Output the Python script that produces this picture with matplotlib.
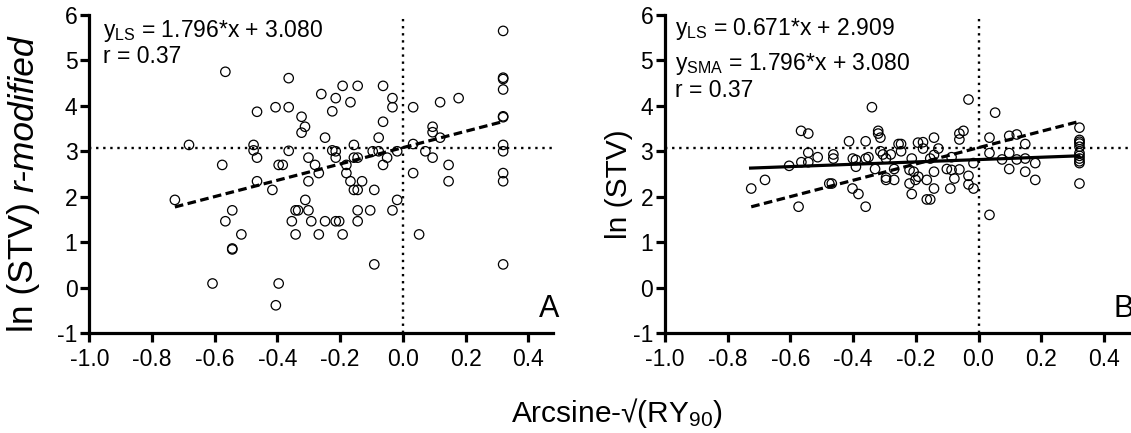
import matplotlib.pyplot as plt

plt.rcParams['font.family'] = ['Liberation Sans', 'DejaVu Sans']
plt.rcParams['mathtext.fontset'] = 'custom'
plt.rcParams['mathtext.rm'] = 'Liberation Sans'
plt.rcParams['mathtext.it'] = 'Liberation Sans:italic'
plt.rcParams['axes.unicode_minus'] = False

# Panel A: ln(STV) r-modified vs arcsine-sqrt(RY90)
xa = [0.320, -0.566, -0.364, 0.320, 0.320, 0.320, -0.192, -0.144, -0.063, -0.260,
      -0.214, -0.167, -0.033, -0.033, -0.465, -0.406, -0.364, -0.225, -0.323, 0.033,
      0.119, 0.178, -0.063, -0.312, -0.323, 0.095, 0.095, 0.119, 0.320, 0.320,
      -0.682, -0.476, -0.476, -0.465, -0.364, -0.248, -0.225, -0.214, -0.214, -0.156,
      -0.077, -0.096, -0.077, -0.018, 0.033, 0.072, 0.095, 0.320, 0.320, -0.576,
      -0.396, -0.383, -0.301, -0.280, -0.180, -0.156, -0.144, -0.063, -0.050, 0.146,
      0.320, 0.320, -0.465, -0.416, -0.301, -0.268, -0.180, -0.167, -0.130, -0.156,
      -0.144, -0.091, 0.033, 0.146, -0.727, -0.311, -0.544, -0.342, -0.334, -0.301,
      -0.144, -0.104, -0.033, -0.018, -0.566, -0.354, -0.292, -0.248, -0.214, -0.203,
      -0.144, -0.515, -0.342, -0.268, -0.192, 0.052, -0.544, -0.544, -0.091, 0.320,
      -0.607, -0.396, -0.405]
ya = [5.65, 4.75, 4.61, 4.62, 4.59, 4.36, 4.44, 4.44, 4.44, 4.26,
      4.17, 4.08, 4.17, 3.97, 3.87, 3.97, 3.97, 3.88, 3.76, 3.97,
      4.08, 4.17, 3.65, 3.54, 3.41, 3.54, 3.42, 3.30, 3.77, 3.75,
      3.14, 3.14, 3.02, 2.86, 3.01, 3.30, 3.02, 3.00, 2.86, 3.14,
      3.30, 3.00, 3.00, 3.00, 3.16, 3.00, 2.86, 3.14, 3.00, 2.70,
      2.70, 2.70, 2.86, 2.70, 2.70, 2.86, 2.86, 2.70, 2.86, 2.70,
      2.52, 2.34, 2.34, 2.15, 2.34, 2.52, 2.52, 2.34, 2.34, 2.15,
      2.15, 2.15, 2.52, 2.34, 1.93, 1.93, 1.70, 1.70, 1.70, 1.70,
      1.70, 1.70, 1.70, 1.93, 1.46, 1.46, 1.46, 1.46, 1.46, 1.46,
      1.46, 1.17, 1.17, 1.17, 1.17, 1.17, 0.86, 0.84, 0.51, 0.51,
      0.09, 0.09, -0.39]

# Panel B: ln(STV) vs arcsine-sqrt(RY90)
xb = [-0.340, -0.566, -0.543, -0.320, -0.320, -0.313, -0.413, -0.360, -0.255, -0.247,
      -0.193, -0.543, -0.513, -0.463, -0.463, -0.565, -0.543, -0.604, -0.401, -0.391,
      -0.391, -0.360, -0.351, -0.313, -0.305, -0.295, -0.280, -0.330, -0.269, -0.247,
      -0.213, -0.220, -0.207, -0.295, -0.295, -0.269, -0.220, -0.213, -0.681, -0.725,
      -0.476, -0.468, -0.402, -0.383, -0.574, -0.360, -0.201, -0.032, 0.053, 0.322,
      0.322, 0.322, 0.322, 0.322, 0.322, 0.322, 0.322, 0.322, 0.322, 0.322,
      -0.177, -0.177, -0.142, -0.128, -0.142, -0.154, -0.061, -0.048, -0.061, 0.035,
      0.098, 0.122, 0.149, 0.098, 0.035, 0.075, 0.122, 0.149, 0.181, 0.098,
      0.149, 0.181, -0.016, -0.086, -0.101, -0.086, -0.061, -0.077, -0.032, -0.032,
      -0.016, -0.090, -0.142, -0.142, -0.165, -0.192, -0.165, -0.154, 0.035]
yb = [3.97, 3.45, 3.39, 3.45, 3.39, 3.30, 3.22, 3.22, 3.16, 3.16,
      3.19, 2.97, 2.87, 2.93, 2.84, 2.76, 2.76, 2.68, 2.84, 2.81,
      2.66, 2.84, 2.87, 3.00, 2.93, 2.84, 2.93, 2.61, 2.61, 3.00,
      2.84, 2.59, 2.55, 2.42, 2.37, 2.37, 2.29, 2.06, 2.37, 2.18,
      2.29, 2.29, 2.18, 2.06, 1.78, 1.78, 2.37, 4.14, 3.85, 3.52,
      3.25, 3.21, 3.17, 3.10, 2.96, 2.90, 2.84, 2.78, 2.74, 2.29,
      3.20, 3.06, 3.30, 3.06, 2.92, 2.84, 3.39, 3.45, 3.26, 3.30,
      3.34, 3.37, 3.16, 2.96, 2.96, 2.82, 2.82, 2.84, 2.74, 2.61,
      2.55, 2.37, 2.74, 2.87, 2.61, 2.59, 2.60, 2.40, 2.46, 2.27,
      2.18, 2.18, 2.55, 2.18, 2.37, 2.44, 1.94, 1.94, 1.60]

# fits
sma_slope, sma_icpt = 1.796, 3.080
ls_line_x = [-0.727, 0.320]
ls_line_y = [2.63, 2.90]

xticks = [-1.0, -0.8, -0.6, -0.4, -0.2, 0.0, 0.2, 0.4]
xticklabels = ['-1.0', '-0.8', '-0.6', '-0.4', '-0.2', '0.0', '0.2', '0.4']
yticks = [-1, 0, 1, 2, 3, 4, 5, 6]

W, H = 1131, 433
fig = plt.figure(figsize=(W / 100, H / 100), dpi=100)
axA = fig.add_axes([89.3 / W, 100 / H, 464 / W, 318 / H])
axB = fig.add_axes([665 / W, 100 / H, 464 / W, 318 / H])


def style(ax):
    ax.set_xlim(-1.0, 0.48)
    ax.set_ylim(-1, 6)
    for s in ['top', 'right']:
        ax.spines[s].set_visible(False)
    for s in ['left', 'bottom']:
        ax.spines[s].set_linewidth(2.3)
    ax.set_xticks(xticks)
    ax.set_xticklabels(xticklabels)
    ax.set_yticks(yticks)
    ax.tick_params(axis='both', length=6.5, width=2.3, labelsize=16.5, pad=2)
    ax.tick_params(axis='x', pad=4)
    ax.axhline(sma_icpt, color='black', lw=1.7, ls=(0, (1, 2.0)), zorder=1)
    ax.axvline(0, color='black', lw=1.7, ls=(0, (1, 2.0)), zorder=1)


for ax in (axA, axB):
    style(ax)

# Panel A
axA.scatter(xa, ya, s=46, facecolors='none', edgecolors='black', linewidths=0.9, zorder=3)
xr = [min(xa), max(xa)]
axA.plot(xr, [sma_slope * v + sma_icpt for v in xr], color='black', lw=2.3,
         ls=(0, (2.7, 1.4)), zorder=2)
axA.text(-0.955, 5.52, r'y$_{\mathrm{LS}}$ = 1.796*x + 3.080', fontsize=16.5, va='baseline')
axA.text(-0.955, 4.94, 'r = 0.37', fontsize=16.5, va='baseline')
axA.text(0.434, -0.645, 'A', fontsize=22, va='baseline')

# Panel B
axB.scatter(xb, yb, s=46, facecolors='none', edgecolors='black', linewidths=0.9, zorder=3)
xr = [min(xb), max(xb)]
axB.plot(xr, [sma_slope * v + sma_icpt for v in xr], color='black', lw=2.3,
         ls=(0, (2.7, 1.4)), zorder=2)
axB.plot(ls_line_x, ls_line_y, color='black', lw=2.3, zorder=2)
axB.text(-0.968, 5.56, r'y$_{\mathrm{LS}}$ = 0.671*x + 2.909', fontsize=16.5, va='baseline')
axB.text(-0.968, 4.79, r'y$_{\mathrm{SMA}}$ = 1.796*x + 3.080', fontsize=16.5, va='baseline')
axB.text(-0.968, 4.20, 'r = 0.37', fontsize=16.5, va='baseline')
axB.text(0.43, -0.645, 'B', fontsize=22, va='baseline')

# y labels (A is upright + italic, placed as two rotated pieces)
r = fig.canvas.get_renderer()
labA_fs = 25.5
p1 = fig.text(0, 0, 'ln (STV)', fontsize=labA_fs, rotation=90, rotation_mode='anchor',
              ha='left', va='baseline')
p2 = fig.text(0, 0, 'r-modified', fontsize=labA_fs, style='italic', rotation=90,
              rotation_mode='anchor', ha='left', va='baseline')
gap = 0.28 * labA_fs * 100 / 72
l1 = p1.get_window_extent(r).height
l2 = p2.get_window_extent(r).height
start = (H - 184) - (l1 + gap + l2) / 2
bx = 33 / W
p1.set_position((bx, start / H))
p2.set_position((bx, (start + l1 + gap) / H))

labB_fs = 21.5
pb = fig.text(0, 0, 'ln (STV)', fontsize=labB_fs, rotation=90, rotation_mode='anchor',
              ha='left', va='baseline')
lb = pb.get_window_extent(r).height
pb.set_position((627 / W, ((H - 184) - lb / 2) / H))

fig.text(617 / W, 1 - 422 / H, r'Arcsine-√(RY$_{90}$)', fontsize=21.5,
         ha='center', va='baseline')

fig.savefig('out.png', dpi=100)
